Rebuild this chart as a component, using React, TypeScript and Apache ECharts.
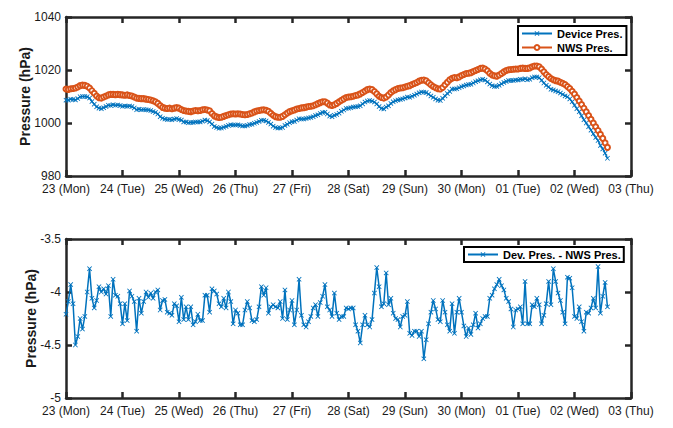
import React, { useEffect, useRef } from 'react';
import * as echarts from 'echarts';

// Day tick labels (one tick every 24 h, starting 23 (Mon) 00:00)
const dayTickLabels = ['23 (Mon)', '24 (Tue)', '25 (Wed)', '26 (Thu)', '27 (Fri)', '28 (Sat)', '29 (Sun)', '30 (Mon)', '01 (Tue)', '02 (Wed)', '03 (Thu)'];
const hoursPerTick = 24;

// Hourly NWS pressure (hPa)
const nwsPressure = [
  1012.8, 1012.7, 1012.9, 1013.0, 1013.2, 1013.6, 1014.1, 1014.3, 1014.2, 1013.9, 1013.2, 1012.2,
  1011.2, 1010.2, 1009.5, 1009.4, 1009.8, 1010.2, 1010.6, 1010.8, 1010.8, 1010.7, 1010.8, 1010.7,
  1010.6, 1010.5, 1010.6, 1010.4, 1010.2, 1009.8, 1009.4, 1009.3, 1009.2, 1009.2, 1009.0, 1008.9,
  1008.7, 1008.4, 1008.0, 1007.4, 1006.6, 1005.9, 1005.6, 1005.5, 1005.6, 1005.4, 1005.6, 1005.8,
  1005.6, 1005.1, 1004.7, 1004.5, 1004.4, 1004.3, 1004.5, 1004.7, 1004.6, 1004.7, 1005.0, 1005.1,
  1004.9, 1004.6, 1003.6, 1002.7, 1002.3, 1002.1, 1002.2, 1002.5, 1002.8, 1003.1, 1003.4, 1003.5,
  1003.4, 1003.5, 1003.4, 1003.2, 1003.1, 1003.2, 1003.5, 1003.8, 1004.2, 1004.5, 1004.7, 1004.9,
  1005.0, 1004.8, 1004.4, 1003.7, 1002.9, 1002.4, 1002.2, 1002.2, 1002.5, 1003.1, 1003.8, 1004.3,
  1004.6, 1004.9, 1005.3, 1005.5, 1005.7, 1005.8, 1006.0, 1006.2, 1006.3, 1006.5, 1006.9, 1007.3,
  1007.7, 1008.0, 1008.0, 1007.5, 1006.8, 1006.6, 1006.9, 1007.4, 1008.0, 1008.6, 1009.1, 1009.6,
  1009.8, 1009.9, 1010.1, 1010.4, 1010.6, 1011.0, 1011.5, 1012.1, 1012.6, 1012.8, 1012.6, 1011.9,
  1011.0, 1010.1, 1009.6, 1009.4, 1009.8, 1010.6, 1011.5, 1012.2, 1012.6, 1013.0, 1013.2, 1013.3,
  1013.6, 1013.9, 1014.1, 1014.5, 1014.9, 1015.3, 1015.8, 1016.1, 1016.2, 1015.9, 1015.2, 1014.4,
  1013.8, 1013.3, 1012.9, 1012.8, 1013.4, 1014.4, 1015.4, 1016.3, 1016.9, 1017.2, 1017.1, 1017.4,
  1017.9, 1018.3, 1018.7, 1018.8, 1019.0, 1019.4, 1019.8, 1020.2, 1020.6, 1020.7, 1020.4, 1019.7,
  1018.8, 1018.1, 1017.8, 1017.7, 1018.1, 1018.7, 1019.3, 1019.8, 1020.1, 1020.2, 1020.3, 1020.4,
  1020.4, 1020.6, 1020.7, 1020.6, 1020.6, 1020.8, 1021.2, 1021.5, 1021.5, 1021.2, 1020.4, 1019.3,
  1018.3, 1017.5, 1016.8, 1016.3, 1016.0, 1015.8, 1015.4, 1015.0, 1014.5, 1013.8, 1013.0, 1012.0,
  1010.9, 1009.6, 1008.3, 1007.0, 1005.6, 1004.2, 1002.8, 1001.4, 1000.0, 998.6, 997.2, 995.7,
  994.2, 992.5, 990.8,
];

// Hourly device pressure (hPa)
const devicePressure = [
  1008.6, 1008.6, 1009.0, 1008.9, 1008.7, 1009.2, 1009.9, 1010.0, 1010.0, 1009.9, 1009.4, 1008.1,
  1007.1, 1006.1, 1005.6, 1005.4, 1005.8, 1006.2, 1006.7, 1006.6, 1006.9, 1006.7, 1006.8, 1006.6,
  1006.3, 1006.4, 1006.3, 1006.4, 1006.2, 1005.7, 1005.0, 1005.2, 1005.0, 1005.1, 1005.0, 1004.9,
  1004.7, 1004.3, 1004.0, 1003.4, 1002.4, 1001.8, 1001.5, 1001.3, 1001.4, 1001.2, 1001.5, 1001.7,
  1001.3, 1001.1, 1000.4, 1000.4, 1000.1, 1000.2, 1000.2, 1000.4, 1000.4, 1000.4, 1000.7, 1001.1,
  1000.9, 1000.4, 999.6, 998.7, 998.3, 998.0, 998.1, 998.4, 998.7, 999.1, 999.3, 999.2,
  999.2, 999.3, 999.1, 998.9, 998.9, 999.1, 999.4, 999.5, 999.9, 1000.2, 1000.6, 1001.0,
  1001.0, 1000.8, 1000.2, 999.6, 998.8, 998.3, 998.1, 998.1, 998.3, 999.1, 999.5, 1000.1,
  1000.5, 1000.6, 1001.1, 1001.6, 1001.5, 1001.5, 1001.7, 1001.9, 1002.1, 1002.4, 1002.8, 1003.1,
  1003.6, 1004.0, 1004.1, 1003.4, 1002.6, 1002.4, 1002.9, 1003.2, 1003.7, 1004.4, 1004.9, 1005.5,
  1005.6, 1005.8, 1006.0, 1006.1, 1006.2, 1006.5, 1007.2, 1007.9, 1008.3, 1008.5, 1008.3, 1007.9,
  1007.2, 1006.2, 1005.5, 1005.3, 1006.0, 1006.5, 1007.4, 1008.0, 1008.4, 1008.7, 1008.9, 1009.1,
  1009.4, 1009.8, 1009.7, 1010.1, 1010.5, 1010.9, 1011.4, 1011.7, 1011.6, 1011.5, 1010.9, 1010.2,
  1009.7, 1009.1, 1008.6, 1008.5, 1009.3, 1010.2, 1011.1, 1011.9, 1012.8, 1012.8, 1012.9, 1013.3,
  1013.7, 1014.0, 1014.3, 1014.5, 1014.6, 1015.1, 1015.6, 1015.9, 1016.3, 1016.5, 1016.2, 1015.5,
  1014.7, 1014.1, 1013.8, 1013.8, 1014.2, 1014.8, 1015.3, 1015.7, 1016.0, 1016.0, 1016.0, 1016.2,
  1016.2, 1016.5, 1016.4, 1016.7, 1016.3, 1016.5, 1017.1, 1017.4, 1017.4, 1017.1, 1016.1, 1015.1,
  1014.2, 1013.6, 1012.7, 1012.5, 1012.1, 1011.8, 1011.3, 1010.8, 1010.2, 1009.9, 1009.1, 1008.0,
  1006.7, 1005.4, 1004.2, 1002.7, 1001.2, 1000.0, 998.6, 997.3, 995.9, 994.5, 993.4, 991.5,
  990.2, 988.6, 986.7,
];

// Hourly difference Dev. Pres. - NWS Pres. (hPa)
const pressureDiff = [
  -4.21, -4.09, -3.93, -4.11, -4.50, -4.42, -4.25, -4.35, -4.23, -4.00, -3.78, -4.06,
  -4.15, -4.08, -3.95, -4.00, -3.97, -4.02, -3.94, -4.23, -3.88, -4.03, -4.04, -4.11,
  -4.30, -4.11, -4.27, -3.99, -4.04, -4.09, -4.37, -4.06, -4.20, -4.09, -4.00, -4.05,
  -4.01, -4.06, -4.00, -3.98, -4.17, -4.08, -4.07, -4.19, -4.20, -4.22, -4.11, -4.13,
  -4.28, -4.05, -4.26, -4.14, -4.26, -4.14, -4.31, -4.28, -4.21, -4.27, -4.27, -4.03,
  -4.03, -4.19, -3.97, -3.99, -4.02, -4.11, -4.14, -4.06, -4.15, -4.00, -4.09, -4.30,
  -4.17, -4.20, -4.31, -4.31, -4.17, -4.09, -4.15, -4.27, -4.28, -4.26, -4.14, -3.95,
  -4.03, -3.96, -4.20, -4.14, -4.12, -4.14, -4.15, -4.09, -4.25, -3.98, -4.26, -4.17,
  -4.08, -4.31, -4.17, -3.88, -4.22, -4.31, -4.33, -4.28, -4.23, -4.15, -4.12, -4.23,
  -4.10, -4.04, -3.93, -4.14, -4.17, -4.23, -4.01, -4.20, -4.26, -4.23, -4.23, -4.15,
  -4.16, -4.15, -4.15, -4.31, -4.37, -4.48, -4.31, -4.22, -4.31, -4.33, -4.26, -4.01,
  -3.77, -3.95, -4.14, -4.11, -3.82, -4.12, -4.06, -4.20, -4.25, -4.26, -4.33, -4.23,
  -4.22, -4.09, -4.39, -4.41, -4.37, -4.37, -4.42, -4.37, -4.63, -4.45, -4.30, -4.19,
  -4.08, -4.16, -4.26, -4.28, -4.08, -4.19, -4.31, -4.37, -4.11, -4.39, -4.19, -4.06,
  -4.19, -4.32, -4.42, -4.34, -4.40, -4.31, -4.20, -4.34, -4.30, -4.25, -4.23, -4.23,
  -4.06, -4.03, -3.97, -3.93, -3.88, -3.94, -3.98, -4.06, -4.09, -4.16, -4.33, -4.17,
  -4.16, -4.14, -4.30, -3.90, -4.30, -4.30, -4.12, -4.14, -4.06, -4.12, -4.30, -4.22,
  -4.11, -3.90, -4.12, -3.78, -3.90, -4.01, -4.08, -4.19, -4.30, -3.86, -3.87, -3.96,
  -4.23, -4.25, -4.14, -4.28, -4.37, -4.19, -4.20, -4.15, -4.06, -4.15, -3.76, -4.20,
  -4.04, -3.91, -4.14,
];

const FONT = '"Liberation Sans", Arial, Helvetica, sans-serif';
const BLUE = '#0072BD';
const ORANGE = '#D95319';
const AXIS_COLOR = '#262626';
const X_SYMBOL = 'path://M0,1.2L1.2,0L5,3.8L8.8,0L10,1.2L6.2,5L10,8.8L8.8,10L5,6.2L1.2,10L0,8.8L3.8,5Z';

const toPoints = (arr: number[]) => arr.map((v, i) => [i, v]);

const frameLine = { show: true, onZero: false, lineStyle: { color: AXIS_COLOR, width: 2.5 } };
const innerTick = { show: true, inside: true, length: 6, lineStyle: { color: AXIS_COLOR, width: 2.5 } };
const labelStyle = { fontFamily: FONT, fontSize: 12, color: '#1a1a1a' };

function xAxes(gridIndex: number) {
  const base = {
    type: 'value' as const,
    gridIndex,
    min: 0,
    max: (dayTickLabels.length - 1) * hoursPerTick,
    interval: hoursPerTick,
    splitLine: { show: false },
    axisLine: frameLine,
    axisTick: innerTick,
  };
  return [
    {
      ...base,
      position: 'bottom',
      axisLabel: {
        ...labelStyle,
        margin: 7,
        formatter: (v: number) => dayTickLabels[Math.round(v / hoursPerTick)] ?? '',
      },
    },
    { ...base, position: 'top', axisLabel: { show: false } },
  ];
}

function yAxes(gridIndex: number, min: number, max: number, interval: number, nameGap: number) {
  const base = {
    type: 'value' as const,
    gridIndex,
    min,
    max,
    interval,
    splitLine: { show: false },
    axisLine: frameLine,
    axisTick: innerTick,
  };
  return [
    {
      ...base,
      position: 'left',
      name: 'Pressure (hPa)',
      nameLocation: 'middle',
      nameGap,
      nameMoveOverlap: false,
      nameTextStyle: { fontFamily: FONT, fontSize: 14, fontWeight: 'bold', color: '#1a1a1a' },
      axisLabel: { ...labelStyle, margin: 5, formatter: (v: number) => String(v) },
    },
    { ...base, position: 'right', axisLabel: { show: false } },
  ];
}

const legendBase = {
  orient: 'vertical' as const,
  itemWidth: 30,
  itemHeight: 6,
  itemGap: 3,
  borderColor: '#000',
  borderWidth: 2,
  borderRadius: 0,
  backgroundColor: '#fff',
  textStyle: { fontFamily: FONT, fontSize: 11, fontWeight: 'bold', color: '#000' },
};

const option = {
  animation: false,
  backgroundColor: '#fff',
  grid: [
    { left: 66, top: 17, width: 565, height: 159 },
    { left: 66, top: 239, width: 565, height: 159 },
  ],
  xAxis: [...xAxes(0), ...xAxes(1)],
  yAxis: [...yAxes(0, 980, 1040, 20, 34), ...yAxes(1, -5, -3.5, 0.5, 28)],
  legend: [
    { ...legendBase, left: 518, top: 26, padding: [2, 4, 2, 3], data: ['Device Pres.', 'NWS Pres.'] },
    { ...legendBase, left: 464, top: 247, padding: [2, 3, 2, 3], data: ['Dev. Pres. - NWS Pres.'] },
  ],
  series: [
    {
      name: 'Device Pres.',
      type: 'line',
      xAxisIndex: 0,
      yAxisIndex: 0,
      data: toPoints(devicePressure),
      symbol: X_SYMBOL,
      symbolSize: 5,
      showAllSymbol: true,
      lineStyle: { color: BLUE, width: 1.5 },
      itemStyle: { color: BLUE },
    },
    {
      name: 'NWS Pres.',
      type: 'line',
      xAxisIndex: 0,
      yAxisIndex: 0,
      data: toPoints(nwsPressure),
      symbol: 'emptyCircle',
      symbolSize: 5,
      showAllSymbol: true,
      lineStyle: { color: ORANGE, width: 1.5 },
      itemStyle: { color: ORANGE, borderColor: ORANGE, borderWidth: 1 },
    },
    {
      name: 'Dev. Pres. - NWS Pres.',
      type: 'line',
      xAxisIndex: 2,
      yAxisIndex: 2,
      data: toPoints(pressureDiff),
      symbol: X_SYMBOL,
      symbolSize: 5,
      showAllSymbol: true,
      lineStyle: { color: BLUE, width: 1.5 },
      itemStyle: { color: BLUE },
    },
  ],
};

export default function App() {
  const ref = useRef<HTMLDivElement>(null);
  useEffect(() => {
    if (!ref.current) return;
    const chart = echarts.init(ref.current, null, { renderer: 'svg' });
    chart.setOption(option as any);
    return () => chart.dispose();
  }, []);
  return (
    <div
      ref={ref}
      style={{ position: 'fixed', left: 0, top: 0, width: 673, height: 428, background: '#fff' }}
    />
  );
}
